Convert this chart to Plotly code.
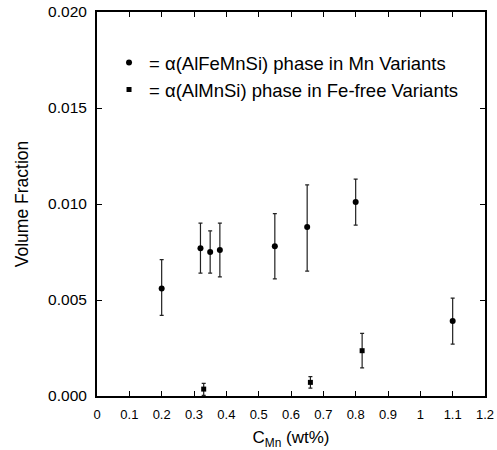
import plotly.graph_objects as go

# Mn variants: alpha(AlFeMnSi)
mn_x = [0.20, 0.32, 0.35, 0.38, 0.55, 0.65, 0.80, 1.10]
mn_y = [0.0056, 0.0077, 0.0075, 0.0076, 0.0078, 0.0088, 0.0101, 0.0039]
mn_err_plus = [0.0015, 0.0013, 0.0011, 0.0014, 0.0017, 0.0022, 0.0012, 0.0012]
mn_err_minus = [0.0014, 0.0013, 0.0011, 0.0014, 0.0017, 0.0023, 0.0012, 0.0012]

# Fe-free variants: alpha(AlMnSi)
fe_x = [0.33, 0.66, 0.82]
fe_y = [0.00036, 0.00071, 0.00236]
fe_err_plus = [0.0003, 0.0003, 0.0009]
fe_err_minus = [0.00033, 0.0003, 0.0009]

x_ticks = [0, 0.1, 0.2, 0.3, 0.4, 0.5, 0.6, 0.7, 0.8, 0.9, 1, 1.1, 1.2]
y_ticks = [0.000, 0.005, 0.010, 0.015, 0.020]

font = "Liberation Sans, Arial, sans-serif"

fig = go.Figure()
fig.add_trace(go.Scatter(
    x=mn_x, y=mn_y, mode="markers",
    name="= \u03b1(AlFeMnSi) phase in Mn Variants",
    marker=dict(symbol="circle", size=6, color="black"),
    error_y=dict(type="data", symmetric=False, array=mn_err_plus,
                 arrayminus=mn_err_minus, color="#222", thickness=1.2, width=2),
))
fig.add_trace(go.Scatter(
    x=fe_x, y=fe_y, mode="markers",
    name="= \u03b1(AlMnSi) phase in Fe-free Variants",
    marker=dict(symbol="square", size=5, color="black"),
    error_y=dict(type="data", symmetric=False, array=fe_err_plus,
                 arrayminus=fe_err_minus, color="#222", thickness=1.2, width=2),
))

axis_common = dict(
    showgrid=False, zeroline=False, showline=True, linecolor="black",
    linewidth=2, mirror="ticks", ticks="inside", ticklen=5,
    tickcolor="black", automargin=False,
)

fig.update_layout(
    width=497, height=450,
    margin=dict(l=97, r=12, t=12, b=54),
    paper_bgcolor="white", plot_bgcolor="white",
    font=dict(family=font, color="black"),
    xaxis=dict(range=[0, 1.2], tickvals=x_ticks,
               ticktext=[("%g" % v) for v in x_ticks],
               tickfont=dict(family=font, size=13, color="black"),
               ticklabelstandoff=5,
               title=dict(text="C<sub>Mn</sub> (wt%)", font=dict(size=17)),
               **axis_common),
    yaxis=dict(range=[0, 0.020], tickvals=y_ticks, tickformat=".3f",
               tickfont=dict(family=font, size=15.5, color="black"),
               ticklabelstandoff=5,
               title=dict(text="Volume Fraction", font=dict(size=17.5)),
               **axis_common),
    legend=dict(x=0.031, y=0.917, xanchor="left", yanchor="top",
                bgcolor="rgba(0,0,0,0)", font=dict(family=font, size=18.5),
                itemwidth=30, tracegroupgap=0),
    showlegend=True,
)

fig.write_html("out.html")
